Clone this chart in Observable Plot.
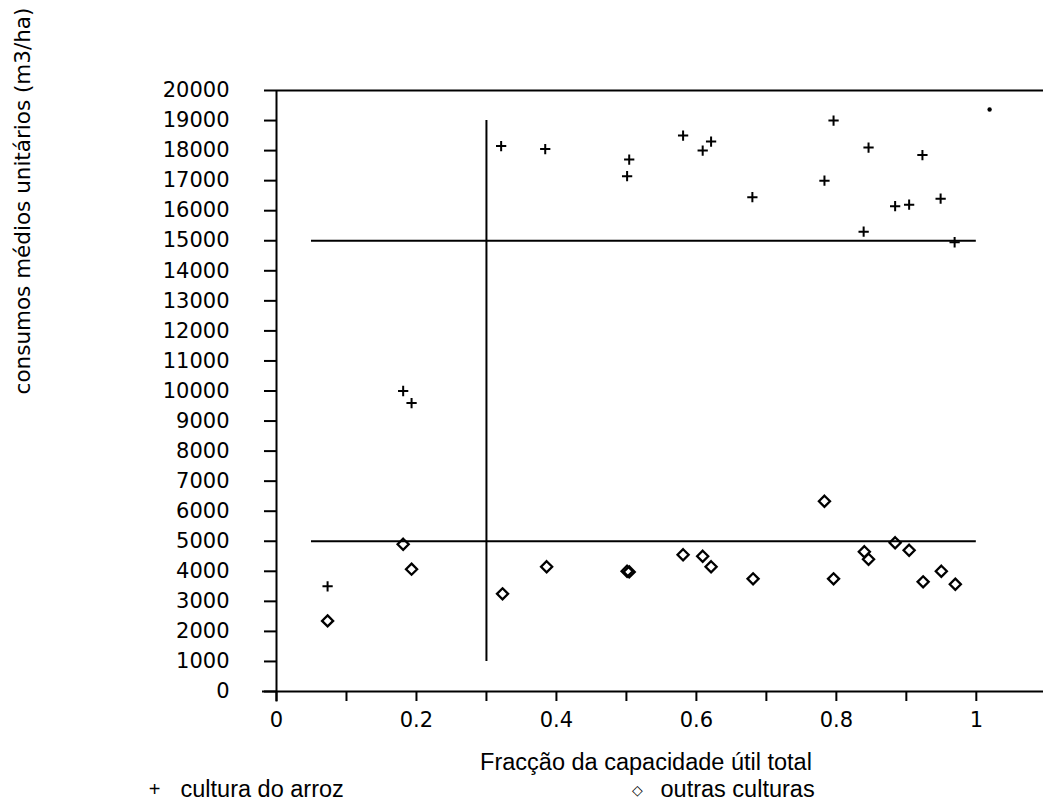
<!DOCTYPE html>
<html>
<head>
<meta charset="utf-8">
<script src="https://cdn.jsdelivr.net/npm/d3@7"></script>
<script src="https://cdn.jsdelivr.net/npm/@observablehq/plot@0.6"></script>
<style>
  html, body { margin: 0; padding: 0; background: #fff; }
</style>
</head>
<body>
<div id="chart"></div>
<script>
// --- data ---
const riceX = [0.073, 0.181, 0.193, 0.321, 0.384, 0.501, 0.504, 0.581, 0.609, 0.621, 0.680, 0.783, 0.796, 0.839, 0.846, 0.884, 0.904, 0.923, 0.949, 0.969];
const riceY = [3500, 10000, 9600, 18150, 18050, 17150, 17700, 18500, 18000, 18300, 16450, 17000, 19000, 15300, 18100, 16150, 16200, 17850, 16400, 14950];
const otherX = [0.073, 0.181, 0.193, 0.323, 0.386, 0.501, 0.504, 0.581, 0.609, 0.621, 0.681, 0.783, 0.796, 0.840, 0.846, 0.884, 0.904, 0.924, 0.950, 0.970];
const otherY = [2350, 4900, 4070, 3250, 4150, 4000, 3980, 4550, 4500, 4150, 3750, 6330, 3750, 4650, 4400, 4950, 4700, 3650, 4000, 3570];
const strayX = [1.019];
const strayY = [19370];

const yTicks = [0, 1000, 2000, 3000, 4000, 5000, 6000, 7000, 8000, 9000, 10000, 11000, 12000, 13000, 14000, 15000, 16000, 17000, 18000, 19000, 20000];
const xTicks = [0, 0.1, 0.2, 0.3, 0.4, 0.5, 0.6, 0.7, 0.8, 0.9, 1.0];
const xTickLabels = ["0", "", "0.2", "", "0.4", "", "0.6", "", "0.8", "", "1"];

// reference lines (threshold lines of the original figure)
const hLines = [{y: 15000, x1: 0.05, x2: 1.0}, {y: 5000, x1: 0.05, x2: 1.0}];
const vLines = [{x: 0.3, y1: 1000, y2: 19000}];

const yTitle = "consumos médios unitários (m3/ha)";
const xTitle = "Fracção da capacidade útil total";
const legendRice = "cultura do arroz";
const legendOther = "outras culturas";

const rice = riceX.map((x, i) => ({x, y: riceY[i]}));
const other = otherX.map((x, i) => ({x, y: otherY[i]}));
const stray = strayX.map((x, i) => ({x, y: strayY[i]}));

const tickFont = "DejaVu Sans, sans-serif";
const textFont = "Liberation Sans, Arial, sans-serif";

const chart = Plot.plot({
  width: 1043,
  height: 803,
  marginLeft: 276,
  marginRight: 0,
  marginTop: 90,
  marginBottom: 112,
  style: {background: "#fff", color: "#000", overflow: "visible"},
  x: {domain: [0, 1.096]},
  y: {domain: [0, 20000]},
  marks: [
    // axis lines and top border
    Plot.ruleX([0], {y1: -350, y2: 20000, stroke: "#000", strokeWidth: 2}),
    Plot.ruleY([0], {x1: -0.02, x2: 1.096, stroke: "#000", strokeWidth: 2}),
    Plot.ruleY([20000], {x1: 0, x2: 1.096, stroke: "#000", strokeWidth: 2}),
    Plot.axisY({
      ticks: yTicks, tickSize: 12, tickPadding: 35, tickFormat: d => String(d),
      fontSize: 21, fontFamily: tickFont, label: null, strokeWidth: 2
    }),
    Plot.axisX({
      ticks: xTicks, tickSize: 10, tickPadding: 11,
      tickFormat: (d, i) => xTickLabels[i],
      fontSize: 21, fontFamily: tickFont, label: null, strokeWidth: 2
    }),
    // reference lines
    Plot.ruleY(hLines, {y: "y", x1: "x1", x2: "x2", stroke: "#000", strokeWidth: 2}),
    Plot.ruleX(vLines, {x: "x", y1: "y1", y2: "y2", stroke: "#000", strokeWidth: 2}),
    // data
    Plot.dot(rice, {x: "x", y: "y", symbol: "plus", r: 3.4, stroke: "#000", strokeWidth: 2}),
    Plot.dot(other, {x: "x", y: "y", symbol: "diamond2", r: 5, stroke: "#000", strokeWidth: 2.3, fill: "none"}),
    Plot.dot(stray, {x: "x", y: "y", r: 2.2, fill: "#000", stroke: "none"}),
    // titles
    Plot.text([yTitle], {
      text: d => d, frameAnchor: "left", rotate: -90, dx: -253, dy: -190,
      fontSize: 21.5, fontFamily: tickFont, textAnchor: "middle", lineAnchor: "middle", fill: "#000"
    }),
    Plot.text([xTitle], {
      text: d => d, frameAnchor: "bottom", dx: -14, dy: 71,
      fontSize: 23.5, fontFamily: textFont, textAnchor: "middle", lineAnchor: "middle", fill: "#000"
    }),
    // legend
    Plot.text(["+"], {
      text: d => d, frameAnchor: "bottom-left", dx: -122, dy: 98,
      fontSize: 20, fontFamily: textFont, textAnchor: "middle", lineAnchor: "middle", fill: "#000"
    }),
    Plot.text([legendRice], {
      text: d => d, frameAnchor: "bottom-left", dx: -96, dy: 98,
      fontSize: 23.5, fontFamily: textFont, textAnchor: "start", lineAnchor: "middle", fill: "#000"
    }),
    Plot.text(["◇"], {
      text: d => d, frameAnchor: "bottom-left", dx: 361, dy: 99,
      fontSize: 14, fontFamily: tickFont, fontWeight: "bold", textAnchor: "middle", lineAnchor: "middle", fill: "#000"
    }),
    Plot.text([legendOther], {
      text: d => d, frameAnchor: "bottom-left", dx: 384, dy: 98,
      fontSize: 23.5, fontFamily: textFont, textAnchor: "start", lineAnchor: "middle", fill: "#000"
    })
  ]
});
document.getElementById("chart").appendChild(chart);
</script>
</body>
</html>
